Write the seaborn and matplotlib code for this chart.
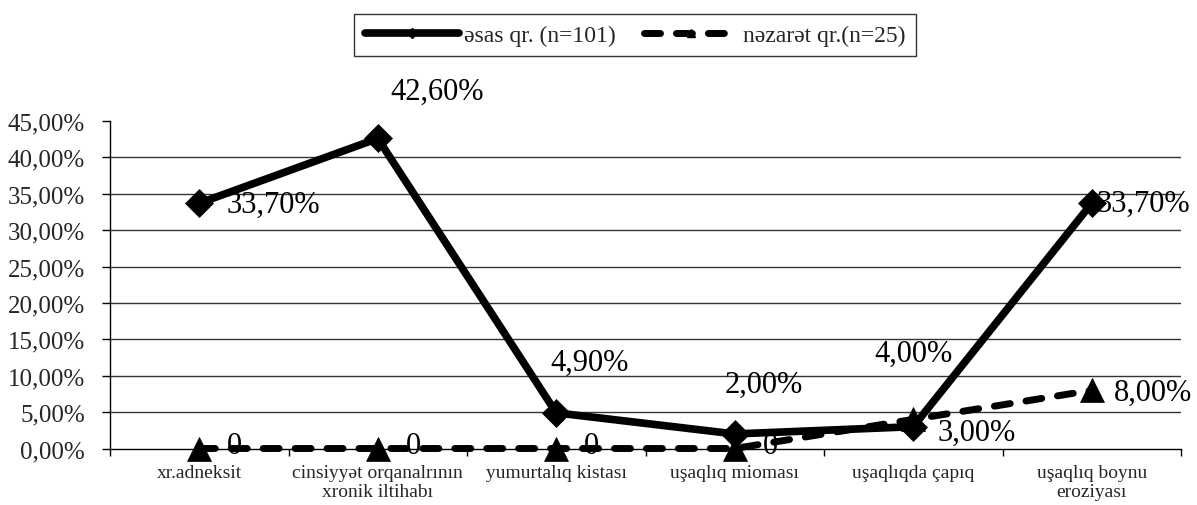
import matplotlib
matplotlib.use("Agg")
import matplotlib.pyplot as plt
import matplotlib.ticker as mticker
from matplotlib.lines import Line2D
import seaborn as sns
import pandas as pd

categories = [
    "xr.adneksit",
    "cinsiyyət orqanalrının\nxronik iltihabı",
    "yumurtalıq kistası",
    "uşaqlıq mioması",
    "uşaqlıqda çapıq",
    "uşaqlıq boynu\neroziyası",
]
main_values = [33.7, 42.6, 4.9, 2.0, 3.0, 33.7]      # əsas qr. (n=101), %
control_values = [0.0, 0.0, 0.0, 0.0, 4.0, 8.0]      # nəzarət qr.(n=25), %
main_name = "əsas qr. (n=101)"
control_name = "nəzarət qr.(n=25)"
y_ticks = [0, 5, 10, 15, 20, 25, 30, 35, 40, 45]

sns.set_theme(style="white")
plt.rcParams["font.family"] = ["Liberation Serif", "DejaVu Serif"]

df = pd.DataFrame({
    "pos": list(range(len(categories))) * 2,
    "value": main_values + control_values,
    "group": [main_name] * len(categories) + [control_name] * len(categories),
})

W, H = 1197, 506
fig = plt.figure(figsize=(W / 100, H / 100), dpi=100)
ax = fig.add_axes([110 / W, 1 - 449.5 / H, 1071 / W, 327.5 / H])

for y in y_ticks[1:-1]:
    ax.axhline(y, color="#333333", lw=1.0, zorder=0)

dash_style = (0, (2.3, 2.3))
sns.lineplot(data=df[df.group == main_name], x="pos", y="value", ax=ax,
             color="black", lw=5.5, marker="D", markersize=14,
             markeredgecolor="black", markeredgewidth=0.5, zorder=3, legend=False)
main_line = ax.lines[-1]
sns.lineplot(data=df[df.group == control_name], x="pos", y="value", ax=ax,
             color="black", lw=5, marker="^", markersize=17,
             markeredgecolor="black", markeredgewidth=0.5, zorder=4, legend=False)
ctrl_line = ax.lines[-1]
ctrl_line.set_linestyle(dash_style)
ctrl_line.set_dash_capstyle("round")
for ln in (main_line, ctrl_line):
    ln.set_clip_on(False)

ax.set_xlim(-0.5, len(categories) - 0.5)
ax.set_ylim(0, 45)
ax.set_yticks(y_ticks)
ax.yaxis.set_major_formatter(mticker.FuncFormatter(lambda v, p: f"{v:.2f}%".replace(".", ",")))
ax.set_xticks(range(len(categories)))
ax.set_xticklabels(categories, fontsize=14, linespacing=1.15)
ax.set_xticks([i + 0.5 for i in range(-1, len(categories))], minor=True)
ax.tick_params(axis="x", which="major", length=0, pad=11, bottom=True)
ax.tick_params(axis="x", which="minor", length=5, width=1, color="black",
               direction="out", bottom=True)
ax.tick_params(axis="y", which="major", length=6, width=1, color="black",
               direction="out", labelsize=18, pad=12, left=True)
for side in ("top", "right"):
    ax.spines[side].set_visible(False)
for side in ("left", "bottom"):
    ax.spines[side].set_color("black")
    ax.spines[side].set_linewidth(1.0)
ax.set_xlabel("")
ax.set_ylabel("")


def fmt(v):
    return f"{v:.2f}%".replace(".", ",")


label_size = 22
# (dx, dy, ha) in pixels from each point; labels are vertically centred
main_offsets = [(27, -1, "left"), (13, 47, "left"), (-6, 51, "left"),
                (-10, 50, "left"), (24, -6, "left"), (5, 0, "left")]
for i, v in enumerate(main_values):
    dx, dy, ha = main_offsets[i]
    ax.annotate(fmt(v), (i, v), xytext=(dx, dy), textcoords="offset pixels",
                ha=ha, va="center", fontsize=label_size, color="black", zorder=6)

control_offsets = [(28, 3, "left")] * 4 + [(0, 66, "center"), (22, -2, "left")]
for i, v in enumerate(control_values):
    dx, dy, ha = control_offsets[i]
    text = "0" if v == 0 else fmt(v)
    ax.annotate(text, (i, v), xytext=(dx, dy), textcoords="offset pixels",
                ha=ha, va="center", fontsize=label_size, color="black", zorder=6)

handles = [
    Line2D([], [], color="black", lw=5.5, marker="D", markersize=5),
    Line2D([], [], color="black", lw=5, linestyle=dash_style,
           dash_capstyle="round", marker="^", markersize=6),
]
leg = fig.legend(handles, [main_name, control_name], loc="center",
                 bbox_to_anchor=(635 / W, 1 - 36 / H), ncol=2, frameon=True,
                 fancybox=False, fontsize=17, handlelength=4.0,
                 handletextpad=0.2, columnspacing=1.2, borderpad=0.45)
leg.get_frame().set_edgecolor("black")
leg.get_frame().set_linewidth(1.0)

fig.savefig("out.png", dpi=100)
